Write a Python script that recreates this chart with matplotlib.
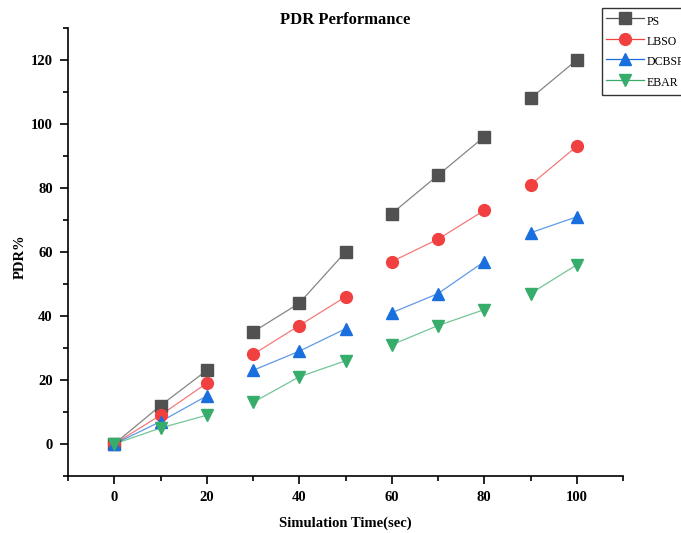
import numpy as np
import matplotlib
matplotlib.use("Agg")
import matplotlib.pyplot as plt
from matplotlib.ticker import MultipleLocator

plt.rcParams['font.family'] = ['Liberation Serif', 'DejaVu Serif']
plt.rcParams['font.weight'] = 'bold'

# simulation time (sec)
time = [0, 10, 20, 30, 40, 50, 60, 70, 80, 90, 100]
ps = [0, 12, 23, 35, 44, 60, 72, 84, 96, 108, 120]
lbso = [0, 9, 19, 28, 37, 46, 57, 64, 73, 81, 93]
dcbsrp = [0, 7, 15, 23, 29, 36, 41, 47, 57, 66, 71]
ebar = [0, 5, 9, 13, 21, 26, 31, 37, 42, 47, 56]
names = ['PS', 'LBSO', 'DCBSRP', 'EBAR']

# lines are only drawn inside these index groups
segments = [(0, 3), (3, 6), (6, 9), (9, 11)]

series = [ps, lbso, dcbsrp, ebar]
colors = ['#515151', '#F14040', '#1A6FDF', '#37AD6B']
markers = ['s', 'o', '^', 'v']
sizes = [8, 8.5, 9, 9]

fig = plt.figure(figsize=(6.81, 5.33), dpi=100)
ax = fig.add_axes([68 / 681, 1 - 476 / 533, 555 / 681, 448 / 533])

handles = []
for vals, c, m, s, name in zip(series, colors, markers, sizes, names):
    for a, b in segments:
        ax.plot(time[a:b], vals[a:b], '-', color=c, lw=0.9, alpha=0.7, zorder=2)
    ax.plot(time, vals, linestyle='none', marker=m, color=c, ms=s, mec=c, zorder=3)
    h, = ax.plot([], [], '-', color=c, lw=0.9, marker=m, ms=s, label=name)
    handles.append(h)

ax.set_xlim(-10, 110)
ax.set_ylim(-10, 130)
ax.xaxis.set_major_locator(MultipleLocator(20))
ax.xaxis.set_minor_locator(MultipleLocator(10))
ax.yaxis.set_major_locator(MultipleLocator(20))
ax.yaxis.set_minor_locator(MultipleLocator(10))
ax.tick_params(which='major', direction='out', length=6, width=1.2, labelsize=10.5, pad=5)
ax.tick_params(which='minor', direction='out', length=3.5, width=1.2)
for lbl in ax.get_xticklabels() + ax.get_yticklabels():
    lbl.set_fontweight('bold')
ax.spines['top'].set_visible(False)
ax.spines['right'].set_visible(False)
ax.spines['left'].set_linewidth(1.2)
ax.spines['bottom'].set_linewidth(1.2)

ax.set_title('PDR Performance', fontsize=12, fontweight='bold', pad=3)
ax.set_xlabel('Simulation Time(sec)', fontsize=10.5, fontweight='bold', va='center')
ax.set_ylabel('PDR%', fontsize=10.5, fontweight='bold', va='center')
ax.xaxis.set_label_coords(0.5, (476 - 523) / 448)
ax.yaxis.set_label_coords((20 - 68) / 555, 0.49)

leg = fig.legend(handles=handles, loc='upper left',
                 bbox_to_anchor=(602 / 681, 1 - 8 / 533), bbox_transform=fig.transFigure,
                 fancybox=False, edgecolor='#333333', framealpha=1,
                 handlelength=3.2, handleheight=1.9, handletextpad=0.2, labelspacing=0.25,
                 borderpad=0.35, borderaxespad=0, prop={'size': 8.5, 'weight': 'normal'})
leg.get_frame().set_linewidth(1.0)

fig.savefig('out.png', dpi=100)
